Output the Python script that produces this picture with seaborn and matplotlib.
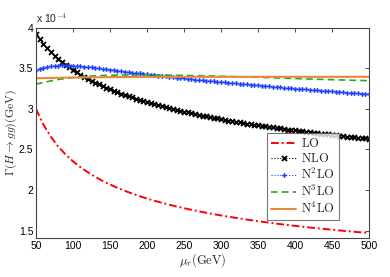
import numpy as np
import pandas as pd
import matplotlib
matplotlib.use("Agg")
import matplotlib.pyplot as plt
import seaborn as sns

# ---- data (values in units of 1e-4 GeV) ----
mu_coarse = list(range(50, 501, 10))
mu_fine = list(range(50, 501, 5))

lo = [3.000, 2.806, 2.657, 2.537, 2.438, 2.354, 2.283, 2.219, 2.164, 2.113,
      2.069, 2.028, 1.991, 1.957, 1.925, 1.896, 1.869, 1.844, 1.820, 1.798,
      1.777, 1.757, 1.739, 1.721, 1.704, 1.688, 1.673, 1.658, 1.644, 1.630,
      1.617, 1.605, 1.593, 1.581, 1.570, 1.560, 1.549, 1.539, 1.530, 1.521,
      1.512, 1.503, 1.495, 1.487, 1.479, 1.471]

nlo = [3.920, 3.857, 3.800, 3.748, 3.700, 3.656, 3.616, 3.578, 3.543, 3.510,
       3.479, 3.449, 3.422, 3.395, 3.370, 3.346, 3.324, 3.302, 3.281, 3.261,
       3.242, 3.223, 3.206, 3.189, 3.172, 3.156, 3.141, 3.126, 3.111, 3.097,
       3.083, 3.070, 3.057, 3.045, 3.033, 3.021, 3.009, 2.998, 2.987, 2.976,
       2.966, 2.956, 2.946, 2.936, 2.927, 2.917, 2.908, 2.899, 2.891, 2.882,
       2.874, 2.865, 2.857, 2.850, 2.842, 2.834, 2.827, 2.819, 2.812, 2.805,
       2.798, 2.791, 2.785, 2.778, 2.771, 2.765, 2.759, 2.752, 2.746, 2.740,
       2.734, 2.728, 2.723, 2.717, 2.712, 2.706, 2.701, 2.695, 2.690, 2.685,
       2.680, 2.675, 2.670, 2.665, 2.660, 2.655, 2.650, 2.646, 2.641, 2.636,
       2.632]

n2lo = [3.480, 3.495, 3.508, 3.518, 3.525, 3.530, 3.533, 3.535, 3.535, 3.534,
        3.532, 3.529, 3.525, 3.521, 3.516, 3.511, 3.505, 3.499, 3.493, 3.487,
        3.481, 3.476, 3.470, 3.464, 3.459, 3.453, 3.448, 3.442, 3.437, 3.432,
        3.427, 3.421, 3.416, 3.410, 3.405, 3.400, 3.395, 3.390, 3.385, 3.380,
        3.375, 3.370, 3.366, 3.361, 3.357, 3.352, 3.348, 3.344, 3.339, 3.335,
        3.331, 3.327, 3.323, 3.318, 3.314, 3.310, 3.306, 3.302, 3.298, 3.294,
        3.290, 3.286, 3.282, 3.278, 3.274, 3.270, 3.266, 3.262, 3.258, 3.255,
        3.251, 3.247, 3.244, 3.240, 3.236, 3.233, 3.229, 3.226, 3.222, 3.219,
        3.215, 3.212, 3.208, 3.205, 3.201, 3.198, 3.194, 3.191, 3.187, 3.184,
        3.180]

n3lo = [3.305, 3.325, 3.345, 3.362, 3.375, 3.386, 3.395, 3.402, 3.407, 3.411,
        3.414, 3.416, 3.417, 3.418, 3.418, 3.418, 3.417, 3.416, 3.415, 3.414,
        3.413, 3.411, 3.409, 3.407, 3.405, 3.402, 3.400, 3.397, 3.395, 3.392,
        3.389, 3.386, 3.383, 3.380, 3.377, 3.374, 3.371, 3.368, 3.365, 3.362,
        3.360, 3.357, 3.355, 3.352, 3.350, 3.347]

n4lo = [3.377, 3.379, 3.381, 3.383, 3.385, 3.386, 3.387, 3.388, 3.389, 3.390,
        3.391, 3.392, 3.392, 3.393, 3.393, 3.394, 3.394, 3.394, 3.394, 3.394,
        3.395, 3.395, 3.395, 3.395, 3.395, 3.395, 3.395, 3.395, 3.395, 3.395,
        3.395, 3.395, 3.395, 3.395, 3.395, 3.395, 3.395, 3.395, 3.395, 3.395,
        3.395, 3.395, 3.395, 3.395, 3.395, 3.395]

labels = [r"$\mathrm{LO}$", r"$\mathrm{NLO}$", r"$\mathrm{N^2LO}$",
          r"$\mathrm{N^3LO}$", r"$\mathrm{N^4LO}$"]
x_ticks = list(range(50, 501, 50))
y_ticks = [1.5, 2, 2.5, 3, 3.5, 4]
y_tick_labels = ["1.5", "2", "2.5", "3", "3.5", "4"]

sns.set_theme(style="white")
plt.rcParams["mathtext.fontset"] = "cm"
plt.rcParams["font.family"] = ["Liberation Sans", "DejaVu Sans"]

fig = plt.figure(figsize=(3.9, 2.77), dpi=100)
ax = fig.add_axes([36/390, 1-238/277, (369-36)/390, (238-27.7)/277])

sns.lineplot(x=mu_coarse, y=lo, ax=ax, color="#ff0000", lw=1.4,
             linestyle=(0, (4, 1.5, 1, 1.5)), label=labels[0])
sns.lineplot(x=mu_fine, y=nlo, ax=ax, color="black", lw=0.8, linestyle=":",
             marker="x", markersize=3.6, markeredgewidth=1.3,
             markeredgecolor="black", label=labels[1])
sns.lineplot(x=mu_fine, y=n2lo, ax=ax, color="#1f3fff", lw=0.8, linestyle=":",
             marker="P", markersize=3.4, markeredgewidth=0,
             label=labels[2])
sns.lineplot(x=mu_coarse, y=n3lo, ax=ax, color="#22aa22", lw=1.2,
             linestyle=(0, (4, 2.5)), label=labels[3])
sns.lineplot(x=mu_coarse, y=n4lo, ax=ax, color="#e8883a", lw=1.5,
             linestyle="-", label=labels[4])

ax.set_xlim(50, 500)
ax.set_ylim(1.41, 4.0)
ax.set_xticks(x_ticks)
ax.set_xticklabels([str(t) for t in x_ticks])
ax.set_yticks(y_ticks)
ax.set_yticklabels(y_tick_labels)
ax.tick_params(direction="in", top=True, right=True, length=3, width=0.6,
               labelsize=7.5, colors="#333333", pad=2)
for lab in ax.get_xticklabels() + ax.get_yticklabels():
    lab.set_color("black")
for s in ax.spines.values():
    s.set_color("#444444")
    s.set_linewidth(0.8)

ax.set_xlabel(r"$\mu_r\mathrm{(GeV)}$", fontsize=9, labelpad=0)
ax.set_ylabel(r"$\Gamma(H\rightarrow gg)\mathrm{(GeV)}$", fontsize=8.5)
ax.yaxis.set_label_coords(-0.05, 0.5)
ax.text(0.0, 1.015, r"x 10$^{-4}$", transform=ax.transAxes, fontsize=7.5,
        ha="left", va="bottom")

leg = ax.legend(loc="lower right", bbox_to_anchor=(0.91, 0.086),
                borderaxespad=0, fontsize=9, frameon=True, fancybox=False,
                handlelength=2.0, handletextpad=0.4, labelspacing=0.15,
                borderpad=0.3)
leg.get_frame().set_edgecolor("#555555")
leg.get_frame().set_linewidth(0.8)

fig.savefig("out.png", dpi=100)
